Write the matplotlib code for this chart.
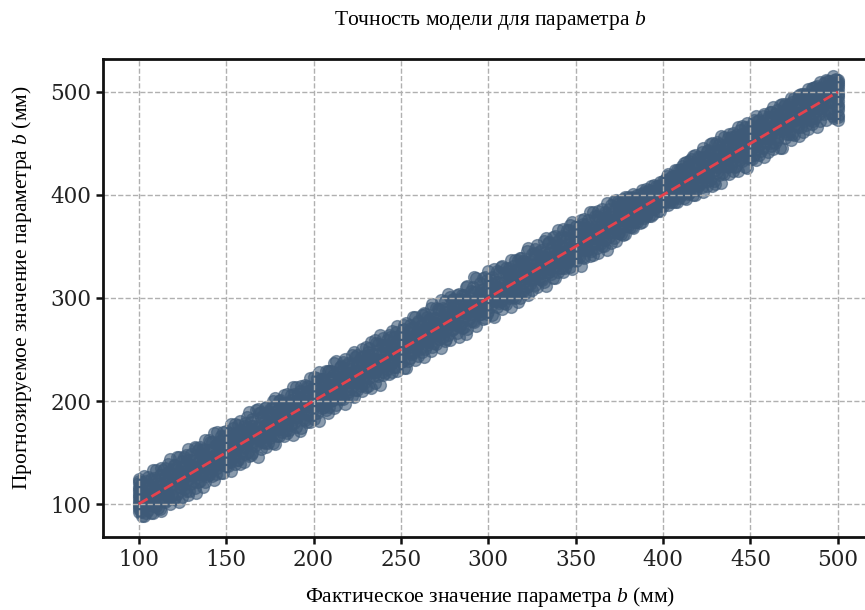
import matplotlib as mpl
mpl.use('agg')
import numpy as np
import matplotlib.pyplot as plt

plt.rcParams['mathtext.fontset'] = 'custom'
plt.rcParams['mathtext.rm'] = 'Liberation Serif'
plt.rcParams['mathtext.it'] = 'Liberation Serif:italic'

# actual b values (mm), one entry per group of points sharing that actual value
actual_b = [100, 102, 105, 107, 110, 112, 115, 117, 120, 122, 125, 127, 130, 132, 135, 137,
            140, 142, 145, 147, 150, 152, 155, 157, 160, 162, 165, 167, 170, 172, 175, 177,
            180, 182, 185, 187, 190, 192, 195, 197, 200, 202, 205, 207, 210, 212, 215, 217,
            220, 222, 225, 227, 230, 232, 235, 237, 240, 242, 245, 247, 250, 252, 255, 257,
            260, 262, 265, 267, 270, 272, 275, 277, 280, 282, 285, 287, 290, 292, 295, 297,
            300, 302, 305, 307, 310, 312, 315, 317, 320, 322, 325, 327, 330, 332, 335, 337,
            340, 342, 345, 347, 350, 352, 355, 357, 360, 362, 365, 367, 370, 372, 375, 377,
            380, 382, 385, 387, 390, 392, 395, 397, 400, 402, 405, 407, 410, 412, 415, 417,
            420, 422, 425, 427, 430, 432, 435, 437, 440, 442, 445, 447, 450, 452, 455, 457,
            460, 462, 465, 467, 470, 472, 475, 477, 480, 482, 485, 487, 490, 492, 495, 497,
            500]

predicted_b = [
    [92, 95, 99, 103, 106, 110, 113, 117, 120, 124, 97, 108, 115, 101, 122],
    [88, 97, 105, 112, 121], [94, 102, 106, 117, 126], [91, 100, 111, 116, 124],
    [98, 108, 115, 123, 133], [95, 106, 112, 120, 128], [102, 111, 117, 126, 135],
    [107, 109, 123, 131, 139], [105, 119, 123, 129, 138], [110, 117, 123, 134, 146],
    [107, 122, 129, 135, 142], [113, 120, 129, 140, 148], [119, 128, 136, 138, 149],
    [116, 128, 132, 143, 155], [122, 129, 138, 149, 155], [117, 136, 142, 146, 153],
    [128, 135, 142, 152, 162], [127, 134, 146, 152, 160], [135, 142, 146, 158, 170],
    [130, 145, 153, 158, 166], [137, 144, 150, 158, 171], [141, 148, 155, 166, 169],
    [139, 148, 160, 165, 178], [143, 156, 159, 169, 177], [141, 155, 164, 169, 176],
    [150, 159, 163, 175, 184], [150, 157, 171, 176, 183], [157, 165, 170, 174, 191],
    [153, 164, 170, 184, 189], [159, 168, 177, 182, 193], [164, 168, 177, 187, 192],
    [159, 176, 181, 186, 200], [166, 175, 181, 193, 200], [170, 179, 188, 193, 198],
    [169, 177, 188, 193, 207], [177, 185, 187, 201, 206], [175, 184, 195, 200, 214],
    [171, 188, 194, 204, 210], [182, 188, 199, 204, 216], [186, 196, 198, 210, 214],
    [183, 195, 206, 211, 223], [188, 199, 205, 210, 222], [193, 197, 205, 219, 221],
    [191, 205, 212, 217, 229], [200, 204, 212, 222, 229], [193, 208, 216, 221, 237],
    [202, 208, 216, 228, 233], [202, 216, 223, 228, 238], [209, 215, 223, 227, 237],
    [205, 219, 222, 236, 245], [211, 217, 230, 235, 245], [215, 225, 229, 239, 243],
    [214, 224, 234, 239, 252], [222, 228, 233, 245, 251], [217, 228, 241, 246, 259],
    [224, 236, 240, 245, 255], [225, 235, 240, 254, 261], [231, 239, 247, 252, 259],
    [228, 237, 247, 257, 268], [233, 245, 251, 256, 267], [238, 244, 251, 263, 266],
    [232, 248, 258, 263, 274], [242, 248, 258, 262, 274], [247, 256, 257, 271, 282],
    [244, 255, 265, 270, 278], [248, 259, 264, 274, 283], [254, 257, 269, 274, 282],
    [249, 265, 268, 280, 290], [255, 264, 276, 281, 290], [260, 268, 275, 280, 288],
    [258, 268, 275, 289, 297], [264, 276, 282, 287, 304], [270, 275, 282, 292, 299],
    [266, 279, 286, 291, 303], [271, 277, 286, 298, 303], [265, 285, 293, 298, 311],
    [278, 284, 293, 297, 307], [277, 288, 292, 306, 320], [284, 288, 300, 305, 315],
    [280, 296, 299, 309, 319], [287, 295, 304, 309, 326], [283, 299, 303, 315, 320],
    [291, 297, 311, 316, 326], [297, 305, 310, 315, 330], [294, 304, 310, 324, 329],
    [300, 308, 317, 322, 329], [300, 308, 317, 327, 337], [296, 316, 321, 326, 337],
    [307, 315, 321, 333, 336], [311, 319, 328, 333, 346], [308, 317, 328, 332, 343],
    [313, 325, 327, 341, 348], [318, 324, 335, 340, 347], [316, 328, 334, 344, 355],
    [325, 328, 339, 344, 354], [319, 336, 338, 350, 359], [325, 335, 346, 351, 366],
    [329, 339, 345, 350, 360], [334, 337, 345, 359, 366], [330, 345, 352, 357, 371],
    [336, 344, 352, 362, 370], [340, 348, 356, 361, 369], [339, 348, 356, 368, 377],
    [347, 356, 363, 368, 376], [342, 355, 363, 367, 383], [349, 359, 362, 376, 380],
    [350, 357, 370, 375, 386], [356, 365, 369, 379, 383], [353, 364, 374, 379, 390],
    [358, 368, 373, 385, 394], [363, 368, 381, 386, 392], [361, 376, 380, 385, 396],
    [370, 375, 380, 392, 398], [369, 379, 387, 391, 398], [374, 379, 387, 395, 400],
    [373, 383, 388, 395, 401], [380, 388, 394, 401, 406], [380, 387, 392, 399, 405],
    [386, 392, 398, 404, 410], [384, 391, 399, 403, 409], [389, 396, 400, 408, 414],
    [394, 400, 406, 412, 418], [393, 400, 406, 412, 418], [393, 404, 410, 418, 424],
    [400, 404, 410, 419, 425], [397, 408, 417, 424, 431], [402, 408, 417, 425, 433],
    [400, 415, 421, 430, 438], [409, 415, 421, 428, 437], [408, 419, 428, 433, 442],
    [409, 417, 428, 434, 443], [415, 426, 427, 441, 449], [411, 424, 435, 440, 449],
    [419, 428, 434, 444, 449], [420, 428, 439, 444, 456], [427, 435, 438, 450, 455],
    [423, 435, 446, 451, 460], [428, 439, 445, 450, 458], [433, 437, 445, 459, 467],
    [427, 446, 452, 457, 466], [435, 444, 452, 462, 467], [439, 448, 456, 461, 473],
    [439, 448, 456, 468, 473], [446, 455, 463, 468, 477], [442, 455, 463, 467, 476],
    [448, 459, 462, 476, 481], [453, 457, 470, 475, 482], [446, 465, 469, 479, 487],
    [455, 464, 474, 479, 488], [459, 468, 473, 485, 488], [458, 468, 481, 486, 494],
    [466, 476, 480, 485, 494], [461, 475, 480, 492, 498], [468, 479, 487, 492, 498],
    [469, 477, 487, 494, 504], [475, 485, 491, 500, 505], [472, 484, 491, 501, 510],
    [479, 488, 498, 500, 509], [480, 488, 498, 507, 511], [477, 496, 497, 507, 515],
    [473, 478, 482, 487, 491, 495, 499, 503, 506, 510, 512, 485, 497, 476, 508],
]

# second batch of test samples, actual values in between the ones above
actual_b2 = [101, 104, 106, 109, 111, 114, 116, 119, 121, 124, 126, 129, 131, 134, 136, 139,
             141, 144, 146, 149, 151, 154, 156, 159, 161, 164, 166, 169, 171, 174, 176, 179,
             181, 184, 186, 189, 191, 194, 196, 199, 201, 204, 206, 209, 211, 214, 216, 219,
             221, 224, 226, 229, 231, 234, 236, 239, 241, 244, 246, 249, 251, 254, 256, 259,
             261, 264, 266, 269, 271, 274, 276, 279, 281, 284, 286, 289, 291, 294, 296, 299,
             301, 304, 306, 309, 311, 314, 316, 319, 321, 324, 326, 329, 331, 334, 336, 339,
             341, 344, 346, 349, 351, 354, 356, 359, 361, 364, 366, 369, 371, 374, 376, 379,
             381, 384, 386, 389, 391, 394, 396, 399, 401, 404, 406, 409, 411, 414, 416, 419,
             421, 424, 426, 429, 431, 434, 436, 439, 441, 444, 446, 449, 451, 454, 456, 459,
             461, 464, 466, 469, 471, 474, 476, 479, 481, 484, 486, 489, 491, 494, 496, 499]

predicted_b2 = [
    [92, 99, 106, 115], [91, 100, 106, 122], [99, 106, 113, 118], [98, 104, 112, 125],
    [96, 110, 117, 121], [106, 111, 115, 133], [104, 110, 120, 129], [109, 119, 127, 134],
    [107, 119, 124, 138], [117, 119, 129, 135], [115, 125, 128, 146], [113, 125, 136, 143],
    [122, 128, 132, 143], [121, 134, 140, 152], [128, 130, 140, 152], [127, 137, 147, 149],
    [131, 136, 144, 160], [129, 143, 149, 157], [139, 142, 148, 161], [138, 149, 156, 166],
    [137, 148, 152, 162], [145, 148, 160, 174], [143, 154, 160, 170], [151, 154, 167, 171],
    [149, 160, 164, 179], [148, 160, 169, 180], [156, 166, 168, 176], [162, 166, 176, 188],
    [160, 165, 172, 184], [159, 172, 180, 189], [167, 171, 180, 193], [166, 178, 187, 190],
    [173, 177, 184, 201], [172, 184, 189, 198], [172, 183, 188, 198], [179, 183, 196, 207],
    [184, 189, 192, 207], [183, 189, 200, 204], [180, 195, 200, 215], [190, 195, 207, 212],
    [188, 201, 204, 216], [196, 201, 209, 221], [194, 200, 208, 217], [194, 207, 216, 229],
    [201, 206, 212, 225], [207, 213, 220, 226], [205, 212, 220, 234], [205, 219, 227, 235],
    [212, 218, 224, 231], [211, 218, 229, 243], [218, 224, 228, 239], [217, 224, 236, 244],
    [215, 230, 232, 248], [224, 230, 240, 245], [229, 236, 240, 256], [228, 236, 247, 253],
    [227, 235, 244, 253], [235, 242, 249, 262], [233, 241, 248, 262], [241, 248, 256, 259],
    [239, 247, 252, 270], [239, 254, 260, 267], [246, 253, 260, 271], [252, 253, 267, 276],
    [250, 259, 264, 272], [250, 259, 269, 284], [257, 265, 268, 280], [256, 265, 276, 281],
    [263, 271, 272, 289], [262, 271, 280, 290], [260, 270, 280, 286], [269, 277, 287, 298],
    [274, 276, 284, 294], [273, 283, 289, 299], [272, 282, 288, 303], [280, 289, 296, 300],
    [278, 288, 292, 311], [286, 288, 300, 308], [284, 294, 300, 308], [284, 294, 307, 317],
    [291, 300, 304, 317], [297, 300, 309, 314], [295, 306, 308, 325], [295, 306, 316, 322],
    [302, 305, 312, 326], [301, 312, 320, 331], [308, 311, 320, 327], [307, 318, 327, 339],
    [305, 317, 324, 335], [314, 324, 329, 336], [319, 323, 328, 344], [318, 323, 336, 345],
    [317, 329, 332, 341], [325, 329, 340, 353], [323, 335, 340, 349], [331, 335, 347, 354],
    [329, 341, 344, 358], [329, 341, 349, 355], [336, 340, 348, 366], [342, 347, 356, 363],
    [340, 346, 352, 363], [340, 353, 360, 372], [347, 352, 360, 372], [346, 359, 367, 369],
    [353, 358, 364, 380], [352, 358, 369, 377], [350, 364, 368, 381], [359, 364, 376, 386],
    [364, 370, 372, 382], [363, 370, 380, 394], [362, 376, 380, 390], [370, 376, 387, 391],
    [369, 376, 384, 397], [374, 382, 389, 397], [378, 382, 388, 397], [378, 388, 395, 403],
    [382, 388, 395, 403], [382, 389, 395, 404], [389, 396, 401, 409], [389, 397, 402, 410],
    [393, 397, 407, 415], [393, 403, 406, 416], [397, 403, 411, 416], [397, 404, 413, 424],
    [401, 411, 418, 428], [401, 410, 417, 428], [408, 414, 422, 435], [405, 413, 420, 431],
    [411, 418, 426, 437], [417, 423, 432, 437], [414, 421, 428, 444], [414, 429, 433, 440],
    [422, 427, 438, 451], [421, 432, 437, 448], [428, 430, 442, 448], [428, 438, 440, 456],
    [427, 438, 446, 456], [434, 439, 452, 463], [439, 446, 448, 459], [437, 445, 455, 460],
    [435, 449, 455, 467], [445, 448, 461, 472], [443, 455, 459, 468], [451, 456, 464, 473],
    [450, 456, 462, 481], [450, 464, 470, 479], [456, 462, 474, 477], [462, 467, 471, 486],
    [459, 465, 475, 484], [459, 473, 481, 490], [467, 473, 479, 488], [466, 474, 484, 498],
    [473, 481, 483, 495], [473, 480, 490, 494], [472, 484, 490, 504], [479, 483, 497, 504],
    [484, 490, 492, 504], [482, 491, 499, 511], [480, 491, 499, 508], [490, 499, 506, 513],
]

# third batch: samples along the outer edges of the band
actual_b3 = [103, 108, 113, 118, 123, 128, 133, 138, 143, 148, 153, 158, 163, 168, 173, 178,
             183, 188, 193, 198, 203, 208, 213, 218, 223, 228, 233, 238, 243, 248, 253, 258,
             263, 268, 273, 278, 283, 288, 293, 298, 303, 308, 313, 318, 323, 328, 333, 338,
             343, 348, 353, 358, 363, 368, 373, 378, 383, 388, 393, 398, 403, 408, 413, 418,
             423, 428, 433, 438, 443, 448, 453, 458, 463, 468, 473, 478, 483, 488, 493, 498]

predicted_b3 = [
    [88, 127], [91, 133], [93, 135], [100, 144], [102, 146], [109, 153], [111, 154], [121, 162],
    [123, 169], [130, 170], [132, 178], [139, 181], [147, 189], [146, 192], [155, 194], [158, 203],
    [166, 206], [167, 214], [174, 215], [180, 222], [181, 228], [188, 229], [196, 239], [197, 241],
    [204, 248], [210, 250], [213, 257], [216, 264], [226, 264], [229, 273], [232, 276], [240, 282],
    [243, 285], [252, 294], [251, 298], [259, 301], [262, 304], [270, 312], [273, 319], [281, 320],
    [282, 328], [289, 331], [291, 337], [300, 339], [303, 349], [311, 351], [312, 358], [319, 360],
    [325, 367], [328, 374], [331, 376], [341, 383], [344, 384], [347, 392], [355, 395], [362, 398],
    [368, 401], [374, 405], [380, 409], [384, 413], [390, 420], [393, 424], [396, 432], [400, 439],
    [403, 446], [409, 450], [412, 457], [420, 459], [423, 466], [426, 470], [434, 477], [437, 479],
    [445, 485], [446, 488], [453, 494], [457, 497], [464, 503], [466, 506], [473, 512], [475, 512],
]

all_actual = actual_b + actual_b2 + actual_b3
all_predicted = predicted_b + predicted_b2 + predicted_b3
xs = [a for a, ps in zip(all_actual, all_predicted) for _ in ps]
ys = [p for ps in all_predicted for p in ps]

fig = plt.figure(figsize=(8.65, 6.1), dpi=100)
ax = fig.add_axes([0.119, 0.1197, 0.891, 0.7836])

ax.scatter(xs, ys, s=72, color='#3e5a78', alpha=0.6)
ax.plot([min(actual_b), max(actual_b)], [min(actual_b), max(actual_b)],
        color='#e5424d', linestyle='--', linewidth=2)

ax.set_xlim(79.5, 520.5)
ax.set_ylim(68, 532)
ax.set_xticks([100, 150, 200, 250, 300, 350, 400, 450, 500])
ax.set_yticks([100, 200, 300, 400, 500])
ax.grid(True, linestyle='--', color='#b0b0b0', linewidth=1)
for sp in ax.spines.values():
    sp.set_linewidth(2)
    sp.set_color('#111111')
ax.tick_params(direction='out', length=5, width=1.8, labelsize=15.5, colors='#111111',
               labelcolor='#222222')
for lab in ax.get_xticklabels() + ax.get_yticklabels():
    lab.set_family('DejaVu Serif')

fig.text(490/865, 1 - 20/610, 'Точность модели для параметра $b$', ha='center', va='center',
         family='Liberation Serif', fontsize=15.5)
fig.text(490/865, 1 - 597/610, 'Фактическое значение параметра $b$ (мм)', ha='center', va='center',
         family='Liberation Serif', fontsize=15.5)
fig.text(22/865, 1 - 288/610, 'Прогнозируемое значение параметра $b$ (мм)', ha='center', va='center',
         rotation=90, family='Liberation Serif', fontsize=15.5)

plt.savefig("out.png", dpi=100)
